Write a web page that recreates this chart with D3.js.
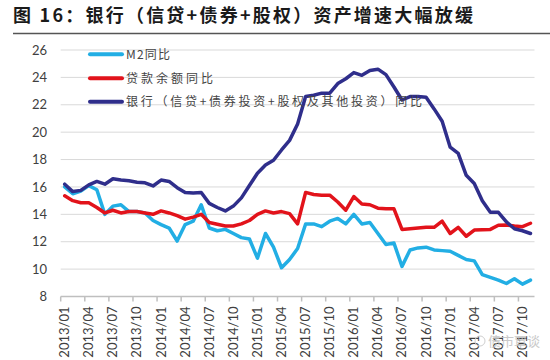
<!DOCTYPE html>
<html>
<head>
<meta charset="utf-8">
<script src="https://cdn.jsdelivr.net/npm/d3@7"></script>
<style>
  html, body { margin: 0; padding: 0; background: #fff; }
  svg { display: block; }
</style>
</head>
<body>
<svg id="chart" width="550" height="360"></svg>
<script>
const title = "图 16：银行（信贷+债券+股权）资产增速大幅放缓";
const months = [
  "2013/01","2013/02","2013/03","2013/04","2013/05","2013/06","2013/07","2013/08","2013/09","2013/10","2013/11","2013/12",
  "2014/01","2014/02","2014/03","2014/04","2014/05","2014/06","2014/07","2014/08","2014/09","2014/10","2014/11","2014/12",
  "2015/01","2015/02","2015/03","2015/04","2015/05","2015/06","2015/07","2015/08","2015/09","2015/10","2015/11","2015/12",
  "2016/01","2016/02","2016/03","2016/04","2016/05","2016/06","2016/07","2016/08","2016/09","2016/10","2016/11","2016/12",
  "2017/01","2017/02","2017/03","2017/04","2017/05","2017/06","2017/07","2017/08","2017/09","2017/10","2017/11"
];
const tickLabels = ["2013/01","2013/04","2013/07","2013/10","2014/01","2014/04","2014/07","2014/10",
  "2015/01","2015/04","2015/07","2015/10","2016/01","2016/04","2016/07","2016/10","2017/01","2017/04","2017/07","2017/10"];
const yTicks = [8, 10, 12, 14, 16, 18, 20, 22, 24, 26];
const seriesNames = ["M2同比", "贷款余额同比", "银行（信贷+债券投资+股权及其他投资）同比"];
const m2 = [16.0,15.5,15.7,16.1,15.8,14.0,14.6,14.7,14.2,14.2,14.1,13.55,
  13.25,13.0,12.05,13.25,13.5,14.7,13.0,12.8,12.9,12.6,12.3,12.2,
  10.8,12.6,11.6,10.1,10.7,11.5,13.3,13.3,13.1,13.5,13.7,13.3,
  14.0,13.3,13.4,12.6,11.8,11.9,10.2,11.4,11.55,11.6,11.4,11.35,
  11.3,11.0,10.7,10.6,9.6,9.4,9.2,8.95,9.3,8.9,9.2];
const loans = [15.35,15.0,14.85,14.85,14.5,14.1,14.3,14.1,14.2,14.2,14.1,14.0,
  14.25,14.1,13.9,13.65,13.8,14.0,13.4,13.27,13.15,13.15,13.3,13.55,
  14.0,14.25,14.1,14.2,14.05,13.3,15.6,15.45,15.4,15.4,14.9,14.3,
  15.3,14.75,14.7,14.45,14.4,14.4,12.9,12.95,13.0,13.05,13.05,13.5,
  12.6,13.05,12.4,12.85,12.88,12.9,13.2,13.22,13.15,13.1,13.35];
const bank = [16.2,15.66,15.75,16.15,16.4,16.2,16.6,16.5,16.45,16.35,16.3,16.07,
  16.5,16.4,15.95,15.6,15.55,15.6,14.8,14.5,14.25,14.6,15.2,16.1,
  17.0,17.6,17.95,18.7,19.4,20.6,22.6,22.7,22.85,22.85,23.55,23.9,
  24.35,24.15,24.5,24.6,24.2,23.3,22.35,22.6,22.6,22.55,21.7,20.8,
  18.9,18.45,16.85,16.25,15.0,14.15,14.15,13.45,12.95,12.8,12.6];
const colors = ["#22aee4", "#e2131b", "#2f2e8b"];

const svg = d3.select("#chart");
svg.append("rect").attr("width", 550).attr("height", 360).attr("fill", "#fff");

// Title
svg.append("text")
  .attr("x", 13).attr("y", 22)
  .attr("font-family", "'Noto Sans CJK SC', sans-serif")
  .attr("font-weight", "bold").attr("font-size", 18)
  .attr("fill", "#1a1a1a")
  .attr("textLength", 460).attr("lengthAdjust", "spacing")
  .text(title);
svg.append("line").attr("x1", 13).attr("x2", 550).attr("y1", 33.5).attr("y2", 33.5)
  .attr("stroke", "#555").attr("stroke-width", 1.5);

const x = d3.scaleBand().domain(months).range([60.7, 534.5]).paddingInner(0).paddingOuter(0);
const y = d3.scaleLinear().domain([8, 26]).range([296.5, 50]);
const cx = m => x(m) + x.bandwidth() / 2;

// Gridlines
svg.append("g").selectAll("line").data(yTicks.filter(v => v > 8)).join("line")
  .attr("x1", 60.7).attr("x2", 534.5)
  .attr("y1", d => y(d)).attr("y2", d => y(d))
  .attr("stroke", "#d9d9d9").attr("stroke-width", 1);

// Y axis labels
const yAxis = d3.axisLeft(y).tickValues(yTicks).tickSize(0).tickPadding(0);
const gy = svg.append("g").attr("transform", "translate(47,0)").call(yAxis);
gy.select(".domain").remove();
gy.selectAll("text").attr("font-family", "Lato, 'Open Sans', sans-serif")
  .attr("font-size", 13).attr("fill", "#404040");

// X axis
const gx = svg.append("g");
gx.append("line").attr("x1", 60.7).attr("x2", 534.5).attr("y1", y(8)).attr("y2", y(8))
  .attr("stroke", "#bfbfbf").attr("stroke-width", 1.5);
gx.selectAll("line.tick").data(tickLabels).join("line").attr("class", "tick")
  .attr("x1", d => x(d)).attr("x2", d => x(d))
  .attr("y1", y(8)).attr("y2", y(8) + 5)
  .attr("stroke", "#bfbfbf").attr("stroke-width", 1.5);
gx.selectAll("text").data(tickLabels).join("text")
  .attr("transform", d => `translate(${cx(d) + 4.5},${y(8) + 10}) rotate(-90)`)
  .attr("text-anchor", "end")
  .attr("font-family", "Lato, 'Open Sans', sans-serif")
  .attr("font-size", 13).attr("fill", "#404040")
  .text(d => d);

// Lines
const line = d3.line().x((d, i) => cx(months[i])).y(d => y(d));
[m2, loans, bank].forEach((s, k) => {
  svg.append("path").datum(s)
    .attr("d", line)
    .attr("fill", "none")
    .attr("stroke", colors[k]).attr("stroke-width", 3.5)
    .attr("stroke-linejoin", "round").attr("stroke-linecap", "round");
});

// Legend
const legendY = [54.3, 78.3, 101.8];
const legendLen = [44, 87, 296];
seriesNames.forEach((name, k) => {
  svg.append("line").attr("x1", 90).attr("x2", 122)
    .attr("y1", legendY[k]).attr("y2", legendY[k])
    .attr("stroke", colors[k]).attr("stroke-width", 4).attr("stroke-linecap", "round");
  svg.append("text").attr("x", 126).attr("y", legendY[k] + 4.5)
    .attr("font-family", "'Noto Sans CJK SC', sans-serif")
    .attr("font-size", 12).attr("fill", "#444")
    .attr("textLength", legendLen[k]).attr("lengthAdjust", "spacing")
    .text(name);
});

// Watermark
svg.append("text").attr("x", 488).attr("y", 346)
  .attr("font-family", "'Noto Sans CJK SC', sans-serif")
  .attr("font-size", 13).attr("fill", "#c4c4c4").attr("opacity", 0.9)
  .text("债市覃谈");
svg.append("circle").attr("cx", 480).attr("cy", 341).attr("r", 5)
  .attr("fill", "none").attr("stroke", "#cfcfcf").attr("stroke-width", 1);
</script>
</body>
</html>
